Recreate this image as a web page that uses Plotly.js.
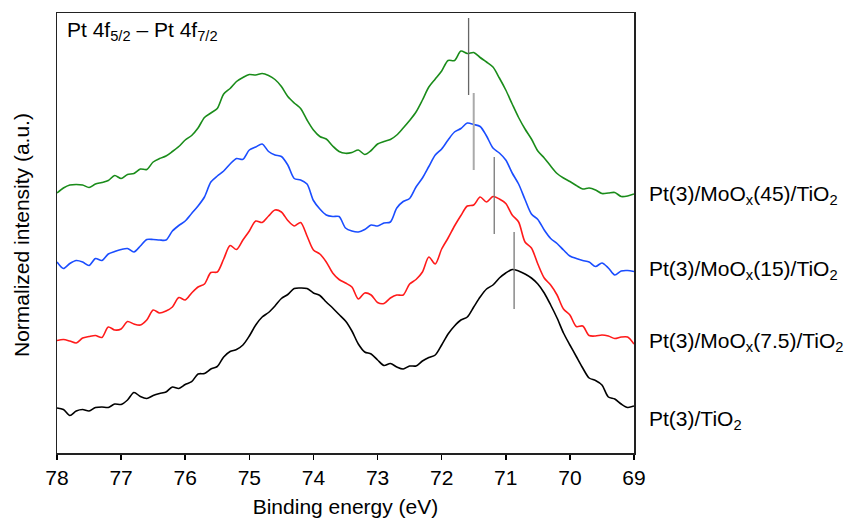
<!DOCTYPE html>
<html>
<head>
<meta charset="utf-8">
<script src="https://cdn.plot.ly/plotly-3.0.1.min.js"></script>
<style>
  html, body { margin: 0; padding: 0; background: #fff; }
  #chart { width: 844px; height: 518px; }
</style>
</head>
<body>
<div id="chart"></div>
<script>
// Binding energy grid (eV)
const energy = [78.0,77.9,77.8,77.7,77.6,77.5,77.4,77.3,77.2,77.1,77.0,76.9,76.8,76.7,76.6,76.5,76.4,76.3,76.2,76.1,
  76.0,75.9,75.8,75.7,75.6,75.5,75.4,75.3,75.2,75.1,75.0,74.9,74.8,74.7,74.6,74.5,74.4,74.3,74.2,74.1,
  74.0,73.9,73.8,73.7,73.6,73.5,73.4,73.3,73.2,73.1,73.0,72.9,72.8,72.7,72.6,72.5,72.4,72.3,72.2,72.1,
  72.0,71.9,71.8,71.7,71.6,71.5,71.4,71.3,71.2,71.1,71.0,70.9,70.8,70.7,70.6,70.5,70.4,70.3,70.2,70.1,
  70.0,69.9,69.8,69.7,69.6,69.5,69.4,69.3,69.2,69.1,69.0];

// Normalized intensity (a.u., stacked) for each sample
const intPtMo45 = [260,265,268,268.5,268,265.5,269,270.5,272.5,277.5,274.5,278.5,279.5,284,283.5,291,294.5,297,301.5,306.5,
  313,317.5,325,335.5,340,344.5,359,364.5,371.5,375.5,378.5,378,379.5,377.5,373.5,366.5,356.5,350,344.5,333,
  323,316.5,314,307,301.5,299.7,300.5,303,298.5,302.5,309,311.5,313.5,318,325,332.5,341,353,366,374,
  382,392.5,392.5,402,399.5,400.5,395.5,391,386,375,363,349,335.5,324,314,302,295,287,279.5,275,
  271.5,267.5,264,265,263,259.5,260,260.5,256.5,257,259];

const intPtMo15 = [191,184.5,189.5,192.5,191,187.5,194.5,192.5,199,201.5,203.5,204.5,201,207,213.5,213.5,213,213,222,227.5,
  232,239.5,247,256,271,277,282,289,294.5,293.7,303,306,309,301.5,298,296.5,288,274.5,273,269,
  252.5,244,238,236.5,236.5,225,222,221,223.5,228,227,230,231,245,251.5,254.5,266,275,286.5,298,
  304,313,321,324.5,330,328.5,326.5,317,305,300,293,280,269,253.5,239,233.5,223,214.5,209.5,203,
  197,194.5,192.5,191,186.5,190,185,178,182,182.5,181.5];

const intPtMo75 = [112.5,113.5,112,110,115,116.5,117.5,115.5,126,123,124,131.5,129,128,133,143,140,142,146,155.5,
  153,160,166,169,180.5,181,194,207.5,203.5,213,222,232,230.5,237,243,241,232.5,227,230.5,217,
  203,199,191,180,173.5,170,166,154,160,158,150.5,149.5,155,158,158,169,173.5,181,196,189,
  204,215,227,237.5,247,248,256,251,256.5,254,249.5,238,231,211,205,189,175,168,158,144,
  138,126.5,127,117.5,117,118,117,114.5,116,116,109];

const intPtTi = [45,43.5,37.5,42,43.5,42,45.5,46,45.5,49,48.5,53,60.5,56.5,54.5,57.5,59.5,61,66,64.5,
  68.5,71.3,79,79.5,84,86.5,96,101.5,103.5,108,117,128,136,140.5,147,154.5,158.5,164.5,165,164.5,
  160,157.5,151,145,138.5,132,122,109,101,99,93,87.5,89.5,86,84,87,87,92,95.5,98,
  108,119,127,133,136,146,156,164,168,175,180,183.5,182,179,175,169,160,148,135,120,
  108,96.5,85,75,72.5,68,56,54,49,45.5,47];

// Sample labels and colours
const sampleLabels = [
  'Pt(3)/MoO<sub>x</sub>(45)/TiO<sub>2</sub>',
  'Pt(3)/MoO<sub>x</sub>(15)/TiO<sub>2</sub>',
  'Pt(3)/MoO<sub>x</sub>(7.5)/TiO<sub>2</sub>',
  'Pt(3)/TiO<sub>2</sub>'
];
const sampleLabelLevel = [258, 183, 111, 33];
const sampleColors = ['#1a8c1a', '#1a4dff', '#ff1a1a', '#000000'];

// Pt 4f7/2 peak positions (eV) with marker extents
const peakEnergy = [71.58, 71.50, 71.18, 70.87];
const peakTop = [435, 360, 296, 221];
const peakBottom = [358, 283, 219, 144];
const peakColors = ['#666666', '#aaaaaa', '#777777', '#777777'];
const peakWidths = [1.3, 2, 1.3, 1.3];

const xTicks = [78,77,76,75,74,73,72,71,70,69];

const series = [intPtMo45, intPtMo15, intPtMo75, intPtTi];
const traces = [];
series.forEach((s, i) => {
  traces.push({
    x: energy, y: s, type: 'scatter', mode: 'lines',
    line: {color: sampleColors[i], width: 1.6, shape: 'spline', smoothing: 0.8},
    hoverinfo: 'skip', showlegend: false
  });
});
peakEnergy.forEach((e, i) => {
  traces.push({
    x: [e, e], y: [peakBottom[i], peakTop[i]], type: 'scatter', mode: 'lines',
    line: {color: peakColors[i], width: peakWidths[i]},
    hoverinfo: 'skip', showlegend: false
  });
});

const font = 'Liberation Sans, Arial, sans-serif';
const annotations = sampleLabels.map((t, i) => ({
  text: t, xref: 'paper', x: 1, xanchor: 'left', xshift: 13,
  yref: 'y', y: sampleLabelLevel[i], yanchor: 'middle',
  showarrow: false, font: {family: font, size: 21, color: '#000'}
}));
annotations.push({
  text: 'Pt 4f<sub>5/2</sub> – Pt 4f<sub>7/2</sub>',
  xref: 'paper', x: 0, xanchor: 'left', xshift: 8,
  yref: 'paper', y: 1, yanchor: 'top', yshift: -3,
  showarrow: false, font: {family: font, size: 21, color: '#000'}
});
annotations.push({
  text: 'Normalized intensity (a.u.)',
  xref: 'paper', x: 0, xanchor: 'center', xshift: -36,
  yref: 'paper', y: 0.5, yanchor: 'middle', yshift: -2, textangle: -90,
  showarrow: false, font: {family: font, size: 21, color: '#000'}
});

const layout = {
  width: 844, height: 518,
  margin: {l: 57, r: 210, t: 13, b: 65},
  paper_bgcolor: '#fff', plot_bgcolor: '#fff',
  font: {family: font, size: 21, color: '#000'},
  xaxis: {
    range: [78, 69], tickvals: xTicks, ticktext: xTicks.map(String),
    ticks: 'outside', ticklen: 5, tickwidth: 1.5, tickcolor: '#000',
    showline: true, linecolor: '#222', linewidth: 1.5, mirror: true,
    showgrid: false, zeroline: false,
    tickfont: {family: font, size: 21, color: '#000'},
    title: {text: 'Binding energy (eV)', font: {family: font, size: 21, color: '#000'}}
  },
  yaxis: {
    range: [0, 440], showticklabels: false, ticks: '',
    showline: true, linecolor: '#222', linewidth: 1.5, mirror: true,
    showgrid: false, zeroline: false
  },
  annotations: annotations
};

Plotly.newPlot('chart', traces, layout, {displayModeBar: false, staticPlot: true});
</script>
</body>
</html>
